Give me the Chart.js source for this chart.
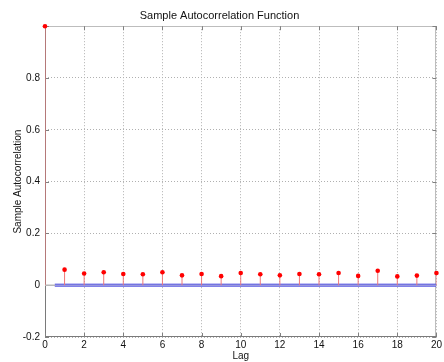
<!DOCTYPE html>
<html><head><meta charset="utf-8">
<script src="https://cdn.jsdelivr.net/npm/chart.js@4.4.0/dist/chart.umd.min.js"></script>
<style>html,body{margin:0;padding:0;background:#fff}#wrap{width:444px;height:362px}</style>
</head><body><div id="wrap"><canvas id="c" width="444" height="362"></canvas></div>
<script>
const lags = [0,1,2,3,4,5,6,7,8,9,10,11,12,13,14,15,16,17,18,19,20];
const acf = [1.0,0.060,0.045,0.050,0.0435,0.042,0.050,0.038,0.0435,0.035,0.047,0.042,0.038,0.0435,0.042,0.047,0.036,0.056,0.034,0.037,0.047];
const boundLags = [0.5, 20];
const upperBound = 0.004;
const lowerBound = -0.004;
const xTicks = [0,2,4,6,8,10,12,14,16,18,20];
const yTicks = [-0.2,0,0.2,0.4,0.6,0.8,1.0];

const pts = lags.map((l,i)=>({x:l,y:acf[i]}));
const stems = [];
lags.forEach((l,i)=>{ stems.push({x:l,y:0},{x:l,y:acf[i]},{x:l,y:null}); });
const font = {family:'"Liberation Sans", Arial, sans-serif', size:10};

const boxPlugin = {
  id:'box',
  beforeDatasetsDraw(chart){
    const {ctx, chartArea:a, scales} = chart;
    ctx.save();
    ctx.lineWidth = 1;
    ctx.strokeStyle = '#bdbdbd';
    ctx.beginPath();
    ctx.moveTo(a.left, Math.round(a.top)+0.5); ctx.lineTo(a.right, Math.round(a.top)+0.5);
    ctx.moveTo(Math.round(a.right)-0.5, a.top); ctx.lineTo(Math.round(a.right)-0.5, a.bottom);
    ctx.stroke();
    ctx.strokeStyle = '#7a7a7a';
    ctx.beginPath();
    ctx.moveTo(Math.round(a.left)+0.5, a.top); ctx.lineTo(Math.round(a.left)+0.5, a.bottom);
    ctx.moveTo(a.left, Math.round(a.bottom)-0.5); ctx.lineTo(a.right, Math.round(a.bottom)-0.5);
    ctx.stroke();
    ctx.strokeStyle = '#808080';
    xTicks.forEach(v=>{
      const x = Math.round(scales.x.getPixelForValue(v))+0.5;
      ctx.beginPath(); ctx.moveTo(x,a.bottom); ctx.lineTo(x,a.bottom-4);
      ctx.moveTo(x,a.top); ctx.lineTo(x,a.top+4); ctx.stroke();
    });
    yTicks.forEach(v=>{
      const y = Math.round(scales.y.getPixelForValue(v))+0.5;
      ctx.beginPath(); ctx.moveTo(a.left,y); ctx.lineTo(a.left+4,y);
      ctx.moveTo(a.right,y); ctx.lineTo(a.right-4,y); ctx.stroke();
    });
    ctx.restore();
  }
};

new Chart(document.getElementById('c'), {
  type:'scatter',
  data:{datasets:[
    {type:'line', data:[{x:0,y:0},{x:20,y:0}], borderColor:'#b8b8b8', borderWidth:1.5, pointRadius:0, order:5},
    {type:'line', data:boundLags.map(x=>({x, y:upperBound})), borderColor:'#5050e0', borderWidth:1, pointRadius:0, order:4,
      fill:{target:'+1'}, backgroundColor:'rgba(150,150,240,0.6)'},
    {type:'line', data:boundLags.map(x=>({x, y:lowerBound})), borderColor:'#5050e0', borderWidth:1, pointRadius:0, order:4},
    {type:'line', data:stems, borderColor:'#f07878', borderWidth:1, pointRadius:0, spanGaps:false, order:3},
    {type:'scatter', data:pts, backgroundColor:'#ff0000', borderColor:'#ff0000', pointRadius:2.3, pointBorderWidth:0, order:1, clip:false}
  ]},
  options:{
    responsive:false, animation:false,
    layout:{padding:{top:0,right:5,bottom:0,left:0}},
    plugins:{legend:{display:false}, tooltip:{enabled:false},
      title:{display:true, text:'Sample Autocorrelation Function', color:'#111', font:{family:font.family,size:11,weight:'normal'}, padding:{top:9,bottom:4}}},
    scales:{
      x:{type:'linear', min:0, max:20, offset:false,
        afterBuildTicks(s){s.ticks = xTicks.map(v=>({value:v}));},
        afterFit(s){s.height = 25;},
        ticks:{color:'#111', font, padding:2, maxRotation:0},
        grid:{color:'#b0b0b0', drawTicks:false, tickLength:0},
        border:{display:false, dash:[1,2]},
        title:{display:true, text:'Lag', color:'#111', font, padding:{top:0,bottom:0}}
      },
      y:{type:'linear', min:-0.2, max:1.0,
        afterBuildTicks(s){s.ticks = yTicks.map(v=>({value:v}));},
        afterFit(s){s.width = 45;},
        ticks:{color:'#111', font, padding:5, callback:v=> v>=0.999 ? '' : String(Math.round(v*10)/10)},
        grid:{color:'#b0b0b0', drawTicks:false, tickLength:0},
        border:{display:false, dash:[1,2]},
        title:{display:true, text:'Sample Autocorrelation', color:'#111', font, padding:{top:12,bottom:0}}
      }
    }
  },
  plugins:[boxPlugin]
});
</script></body></html>
